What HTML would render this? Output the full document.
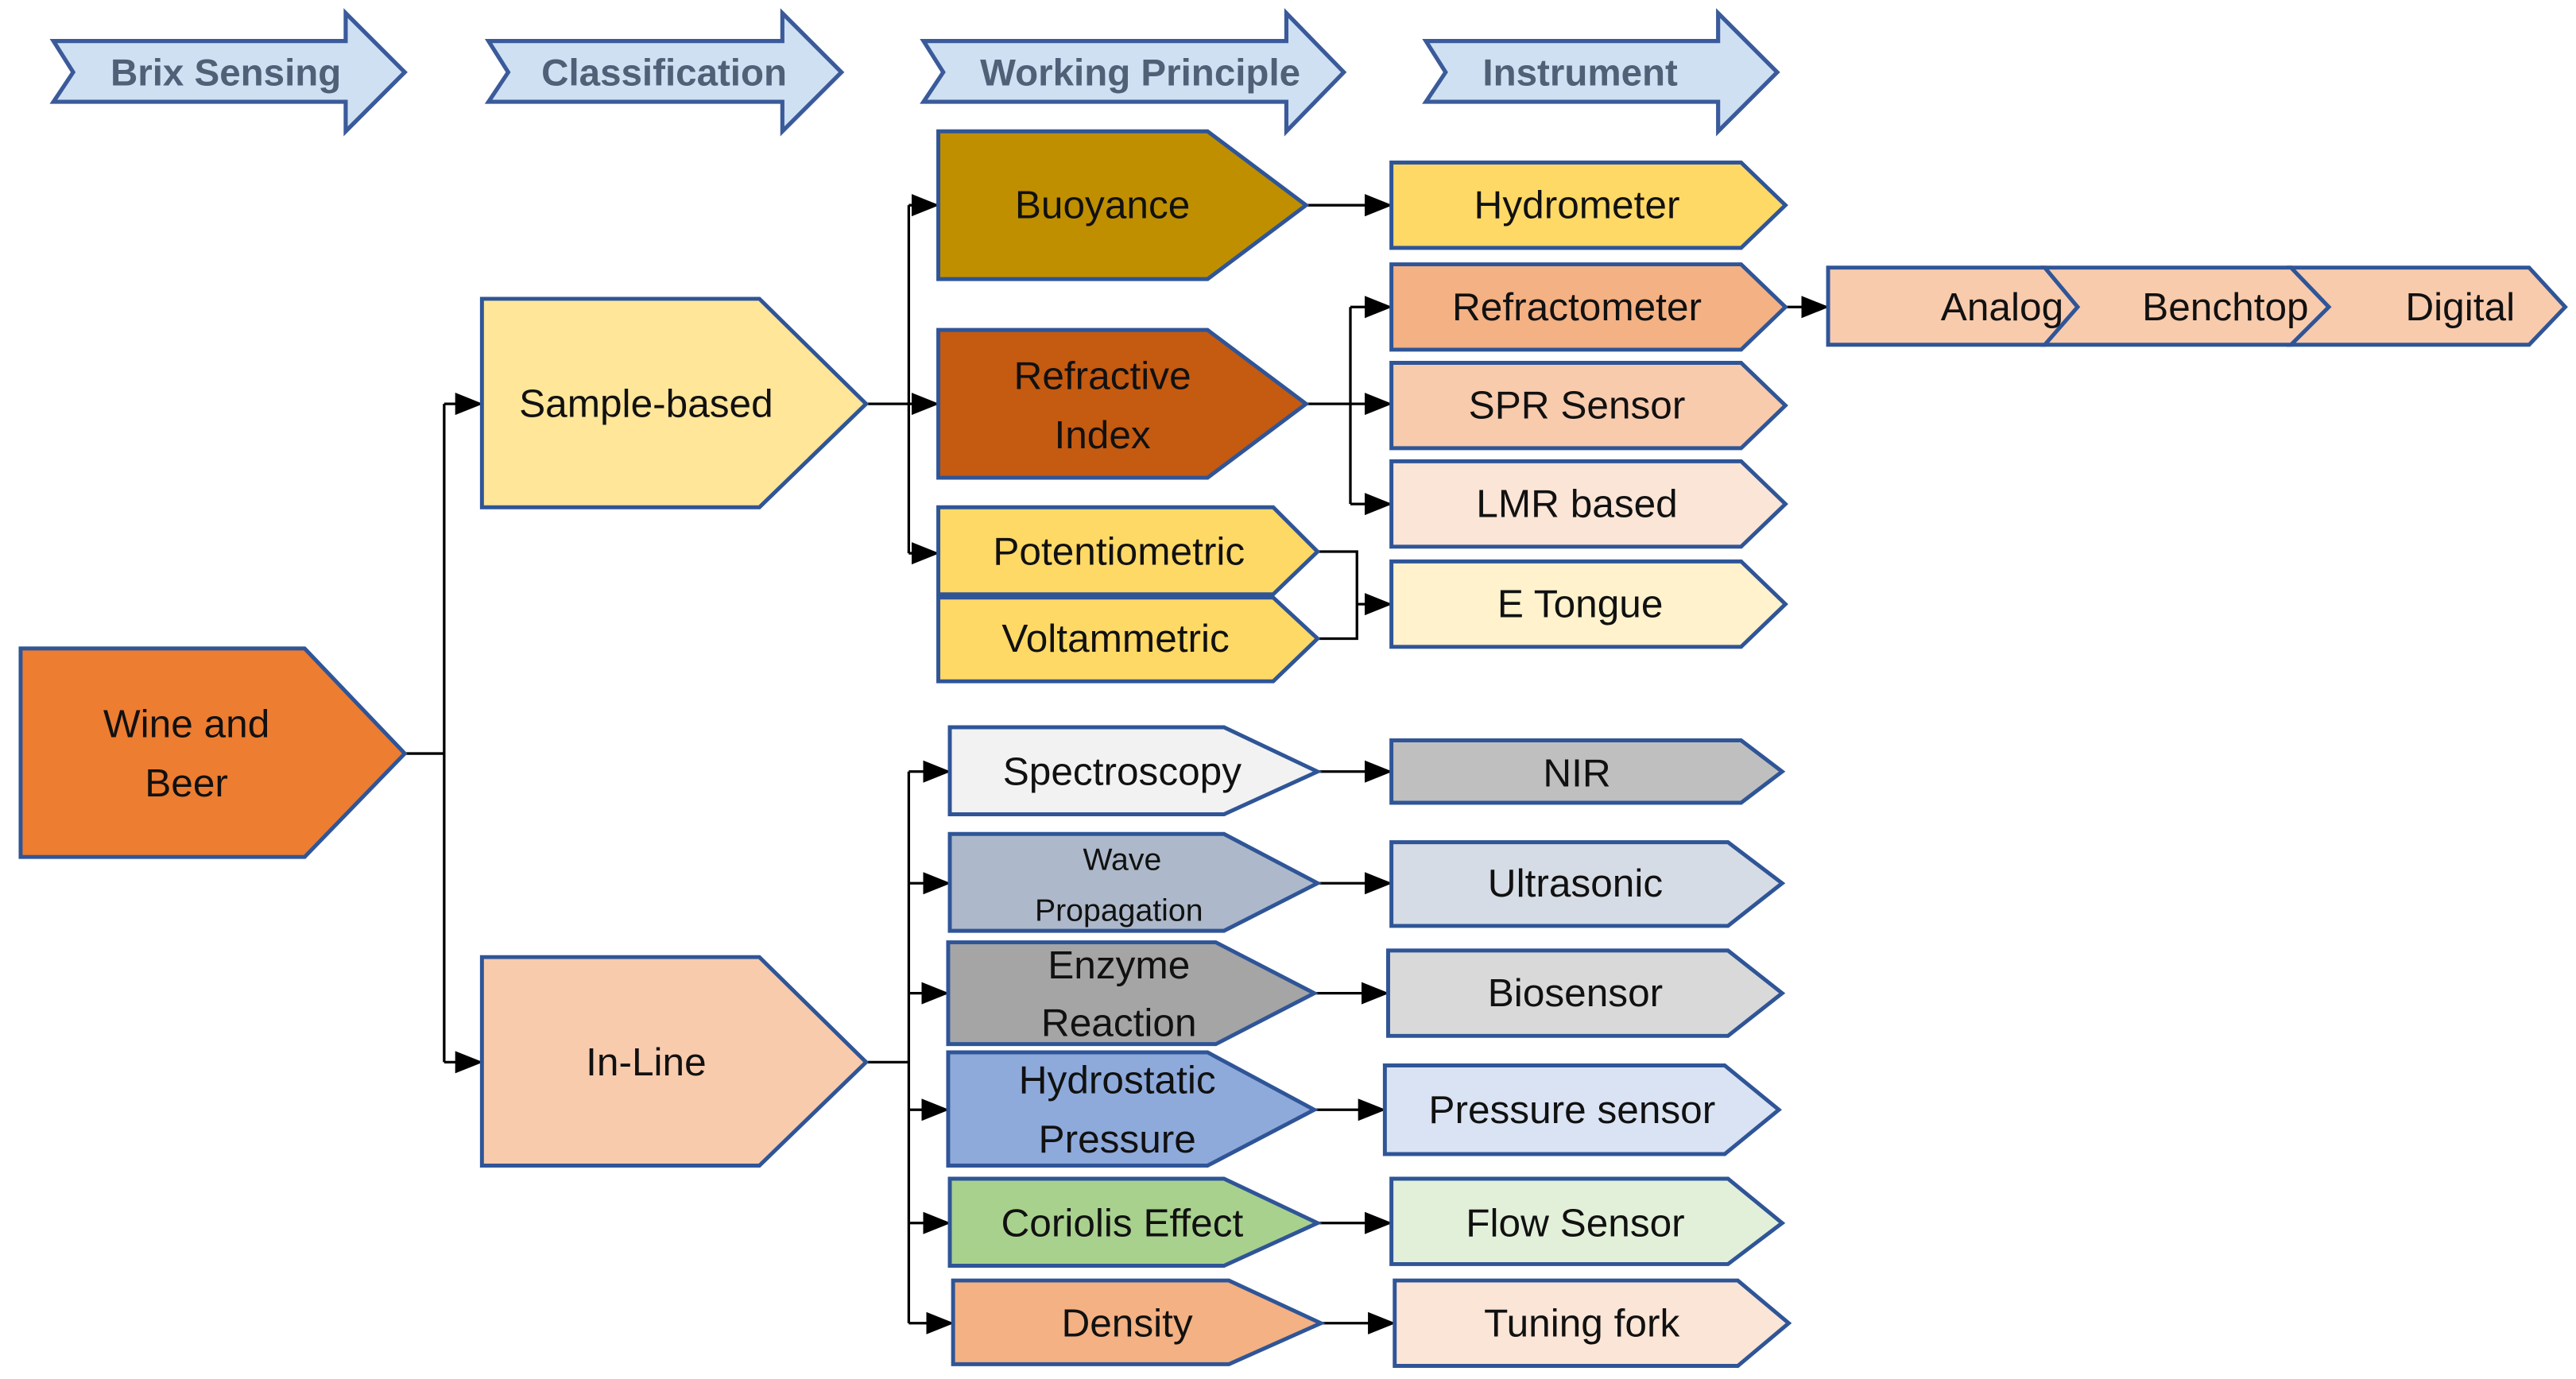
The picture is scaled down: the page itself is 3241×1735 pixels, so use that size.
<!DOCTYPE html>
<html><head><meta charset="utf-8"><style>html,body{margin:0;padding:0;background:#fff}svg{display:block}</style></head>
<body>
<svg width="3241" height="1735" viewBox="0 0 1568 840" xmlns="http://www.w3.org/2000/svg" font-family="Liberation Sans, sans-serif">
<defs>
<marker id="b" viewBox="0 0 10 10" markerWidth="17" markerHeight="17" refX="9" refY="5" orient="auto" markerUnits="userSpaceOnUse"><path d="M0,1 L10,5 L0,9 Z" fill="#000"/></marker>
</defs>
<g fill="#cfe0f3" stroke="#3a5a9a" stroke-width="2.5">
<polygon points="32,25 210,25 210,8 246,44 210,80 210,62 32,62 44,44"/>
<polygon points="297,25 476,25 476,8 512,44 476,80 476,62 297,62 309,44"/>
<polygon points="562,25 783,25 783,8 818,44 783,80 783,62 562,62 574,44"/>
<polygon points="868,25 1046,25 1046,8 1082,44 1046,80 1046,62 868,62 880,44"/>
</g>
<g fill="#4f6077" font-weight="bold" font-size="23" text-anchor="middle">
<text x="137" y="52">Brix Sensing</text>
<text x="404" y="52">Classification</text>
<text x="694" y="52">Working Principle</text>
<text x="962" y="52">Instrument</text>
</g>
<g fill="none" stroke="#000" stroke-width="1.6">
<path d="M246,459 H270 M270,246 V647"/>
<path d="M270,246 H292" marker-end="url(#b)"/>
<path d="M270,647 H292" marker-end="url(#b)"/>
<path d="M527,246 H553 M553,125 V337"/>
<path d="M553,125 H570" marker-end="url(#b)"/>
<path d="M553,246 H570" marker-end="url(#b)"/>
<path d="M553,337 H570" marker-end="url(#b)"/>
<path d="M795,125 H846" marker-end="url(#b)"/>
<path d="M795,246 H822 M822,187 V307"/>
<path d="M822,187 H846" marker-end="url(#b)"/>
<path d="M822,246 H846" marker-end="url(#b)"/>
<path d="M822,307 H846" marker-end="url(#b)"/>
<path d="M802,336 H826 V389 H802"/>
<path d="M826,368 H846" marker-end="url(#b)"/>
<path d="M1087,187 H1112" marker-end="url(#b)"/>
<path d="M527,647 H553 M553,470 V806"/>
<path d="M553,470 H577" marker-end="url(#b)"/>
<path d="M553,538 H577" marker-end="url(#b)"/>
<path d="M553,605 H576" marker-end="url(#b)"/>
<path d="M553,676 H576" marker-end="url(#b)"/>
<path d="M553,745 H577" marker-end="url(#b)"/>
<path d="M553,806 H579" marker-end="url(#b)"/>
<path d="M802,470 H846" marker-end="url(#b)"/>
<path d="M802,538 H846" marker-end="url(#b)"/>
<path d="M800,605 H844" marker-end="url(#b)"/>
<path d="M800,676 H842" marker-end="url(#b)"/>
<path d="M802,745 H846" marker-end="url(#b)"/>
<path d="M804,806 H848" marker-end="url(#b)"/>
</g>
<g stroke="#2f5597" stroke-width="2.4">
<polygon fill="#ed7d31" points="12,395 185,395 246,459 185,522 12,522"/>
<polygon fill="#ffe699" points="293,182 462,182 527,246 462,309 293,309"/>
<polygon fill="#f8cbad" points="293,583 462,583 527,647 462,710 293,710"/>
<polygon fill="#bf8f00" points="571,80 735,80 795,125 735,170 571,170"/>
<polygon fill="#c55a11" points="571,201 735,201 795,246 735,291 571,291"/>
<polygon fill="#ffd966" points="571,309 775,309 802,336 775,362 571,362"/>
<polygon fill="#ffd966" points="571,364 775,364 802,389 775,415 571,415"/>
<polygon fill="#ffd966" points="847,99 1060,99 1087,125 1060,151 847,151"/>
<polygon fill="#f4b183" points="847,161 1060,161 1087,187 1060,213 847,213"/>
<polygon fill="#f8cbad" points="847,221 1060,221 1087,247 1060,273 847,273"/>
<polygon fill="#fbe5d6" points="847,281 1060,281 1087,307 1060,333 847,333"/>
<polygon fill="#fff2cc" points="847,342 1060,342 1087,368 1060,394 847,394"/>
<polygon fill="#f8cbad" points="1113,163 1245,163 1265,187 1245,210 1113,210"/>
<polygon fill="#f8cbad" points="1245,163 1395,163 1418,187 1395,210 1245,210 1265,187"/>
<polygon fill="#f8cbad" points="1395,163 1540,163 1562,187 1540,210 1395,210 1418,187"/>
<polygon fill="#f2f2f2" points="578,443 745,443 802,470 745,496 578,496"/>
<polygon fill="#adb9ca" points="578,508 745,508 802,538 745,567 578,567"/>
<polygon fill="#a5a5a5" points="577,574 740,574 800,605 740,636 577,636"/>
<polygon fill="#8eaadb" points="577,641 735,641 800,676 735,710 577,710"/>
<polygon fill="#a9d18e" points="578,718 745,718 802,745 745,771 578,771"/>
<polygon fill="#f4b183" points="580,780 748,780 804,806 748,831 580,831"/>
<polygon fill="#bfbfbf" points="847,451 1060,451 1085,470 1060,489 847,489"/>
<polygon fill="#d6dce5" points="847,513 1052,513 1085,538 1052,564 847,564"/>
<polygon fill="#d9d9d9" points="845,579 1052,579 1085,605 1052,631 845,631"/>
<polygon fill="#dae3f3" points="843,649 1050,649 1083,676 1050,703 843,703"/>
<polygon fill="#e2f0d9" points="847,718 1052,718 1085,745 1052,770 847,770"/>
<polygon fill="#fbe5d6" points="849,780 1058,780 1089,806 1058,832 849,832"/>
</g>
<g fill="#111" font-size="24" text-anchor="middle">
<text x="113" y="449">Wine and</text><text x="113" y="485">Beer</text>
<text x="393" y="254">Sample-based</text>
<text x="393" y="655">In-Line</text>
<text x="671" y="133">Buoyance</text>
<text x="671" y="237">Refractive</text><text x="671" y="273">Index</text>
<text x="681" y="344">Potentiometric</text>
<text x="679" y="397">Voltammetric</text>
<text x="960" y="133">Hydrometer</text>
<text x="960" y="195">Refractometer</text>
<text x="960" y="255">SPR Sensor</text>
<text x="960" y="315">LMR based</text>
<text x="962" y="376">E Tongue</text>
<text x="1219" y="195">Analog</text>
<text x="1355" y="195">Benchtop</text>
<text x="1498" y="195">Digital</text>
<text x="683" y="478">Spectroscopy</text>
<text x="683" y="530" font-size="19">Wave</text><text x="681" y="561" font-size="19">Propagation</text>
<text x="681" y="596">Enzyme</text><text x="681" y="631">Reaction</text>
<text x="680" y="666">Hydrostatic</text><text x="680" y="702">Pressure</text>
<text x="683" y="753">Coriolis  Effect</text>
<text x="686" y="814">Density</text>
<text x="960" y="479">NIR</text>
<text x="959" y="546">Ultrasonic</text>
<text x="959" y="613">Biosensor</text>
<text x="957" y="684">Pressure sensor</text>
<text x="959" y="753">Flow Sensor</text>
<text x="963" y="814">Tuning fork</text>
</g>
</svg>
</body></html>
